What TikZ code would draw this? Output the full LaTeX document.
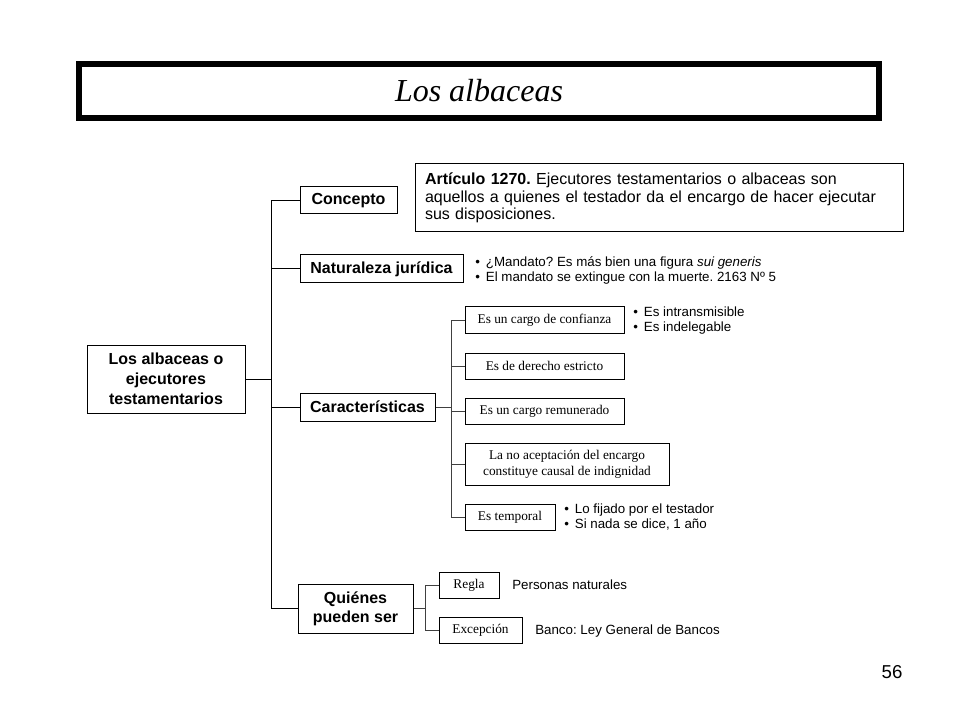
\documentclass[tikz,border=0pt]{standalone}
\usepackage{fontspec}
\setmainfont{Liberation Serif}
\setsansfont{Liberation Sans}
\frenchspacing
\begin{document}
\begin{tikzpicture}[x=0.75pt,y=-0.75pt,
    caja/.style={draw,line width=0.75pt,inner sep=0pt,align=center,
      font=\sffamily\bfseries\fontsize{12}{14.5}\selectfont},
    subcaja/.style={draw,line width=0.75pt,inner sep=0pt,align=center,
      minimum height=19.5pt,font=\fontsize{10}{12}\selectfont},
    nota/.style={anchor=west,inner sep=0pt,align=left,
      font=\sffamily\fontsize{10}{11.25}\selectfont},
    rama/.style={line width=0.75pt},
    subrama/.style={line width=0.75pt,black!75}]
    \useasboundingbox (0,0) rectangle (960,720);

    % Titulo
    \node[draw,line width=4.5pt,minimum width=600pt,minimum height=40.5pt,
      font=\itshape\fontsize{24}{28}\selectfont] (titulo) at (479,91) {Los albaceas};

    % Tronco principal
    \node[caja,minimum width=118.5pt,minimum height=51pt,
      font=\sffamily\bfseries\fontsize{12}{15}\selectfont] (raiz) at (166,379)
      {Los albaceas o\\ejecutores\\testamentarios};
    \node[caja,minimum width=72.75pt,minimum height=20.25pt] (concepto) at (348.5,200.5) {Concepto};
    \node[caja,minimum width=122.25pt,minimum height=21pt] (naturaleza) at (381.5,269) {Naturaleza jurídica};
    \node[caja,minimum width=101.25pt,minimum height=21pt] (caract) at (367.5,407) {Características};
    \node[caja,minimum width=86.25pt,minimum height=36.75pt] (quienes) at (355.5,608.5) {Quiénes\\pueden ser};

    \coordinate (tronco) at (271,379);
    \draw[rama] (raiz.east) -- (tronco);
    \draw[rama] (tronco) |- (concepto.west);
    \draw[rama] (tronco) |- (naturaleza.west);
    \draw[rama] (tronco) |- (caract.west);
    \draw[rama] (tronco) |- (quienes.west);

    % Concepto
    \node[draw,line width=0.75pt,text width=351pt,align=left,inner xsep=7.5pt,inner ysep=0pt,
      minimum height=51pt,font=\sffamily\fontsize{12}{13.2}\selectfont] (articulo) at (659,198)
      {\textbf{Artículo 1270.} Ejecutores testamentarios o albaceas son\\
       aquellos a quienes el testador da el encargo de hacer ejecutar\\
       sus disposiciones.};

    % Naturaleza juridica
    \node[nota] (mandato) at (475,270.5)
      {•\, ¿Mandato? Es más bien una figura \textit{sui generis}\\
       •\, El mandato se extingue con la muerte. 2163 Nº 5};

    % Caracteristicas
    \node[subcaja,minimum width=119.25pt] (confianza) at (544.5,320) {Es un cargo de confianza};
    \node[subcaja,minimum width=119.25pt] (estricto) at (544.5,366) {Es de derecho estricto};
    \node[subcaja,minimum width=119.25pt] (remunerado) at (544.5,411) {Es un cargo remunerado};
    \node[subcaja,minimum width=153pt,minimum height=31.5pt] (aceptacion) at (567,464)
      {La no aceptación del encargo\\constituye causal de indignidad};
    \node[subcaja,minimum width=67.5pt] (temporal) at (510,517) {Es temporal};

    \coordinate (ramacar) at (451,407);
    \draw[subrama] (caract.east) -- (ramacar);
    \draw[subrama] (ramacar) |- (confianza.west);
    \draw[subrama] (ramacar) |- (estricto.west);
    \draw[subrama] (ramacar) |- (remunerado.west);
    \draw[subrama] (ramacar) |- (aceptacion.west);
    \draw[subrama] (ramacar) |- (temporal.west);

    \node[nota] (intrans) at (633,320.5) {•\, Es intransmisible\\•\, Es indelegable};
    \node[nota] (plazo) at (564,517.5) {•\, Lo fijado por el testador\\•\, Si nada se dice, 1 año};

    % Quienes pueden ser
    \node[subcaja,minimum width=45pt] (regla) at (469,585) {Regla};
    \node[subcaja,minimum width=62.25pt] (excepcion) at (480.5,630) {Excepción};

    \coordinate (ramaqui) at (425,608.5);
    \draw[subrama] (quienes.east) -- (ramaqui);
    \draw[subrama] (ramaqui) |- (regla.west);
    \draw[subrama] (ramaqui) |- (excepcion.west);

    \node[nota] (personas) at (512,585) {Personas naturales};
    \node[nota] (banco) at (535,631) {Banco: Ley General de Bancos};

    \node[font=\sffamily\fontsize{14}{16}\selectfont] (pagina) at (892,672) {56};
\end{tikzpicture}
\end{document}
